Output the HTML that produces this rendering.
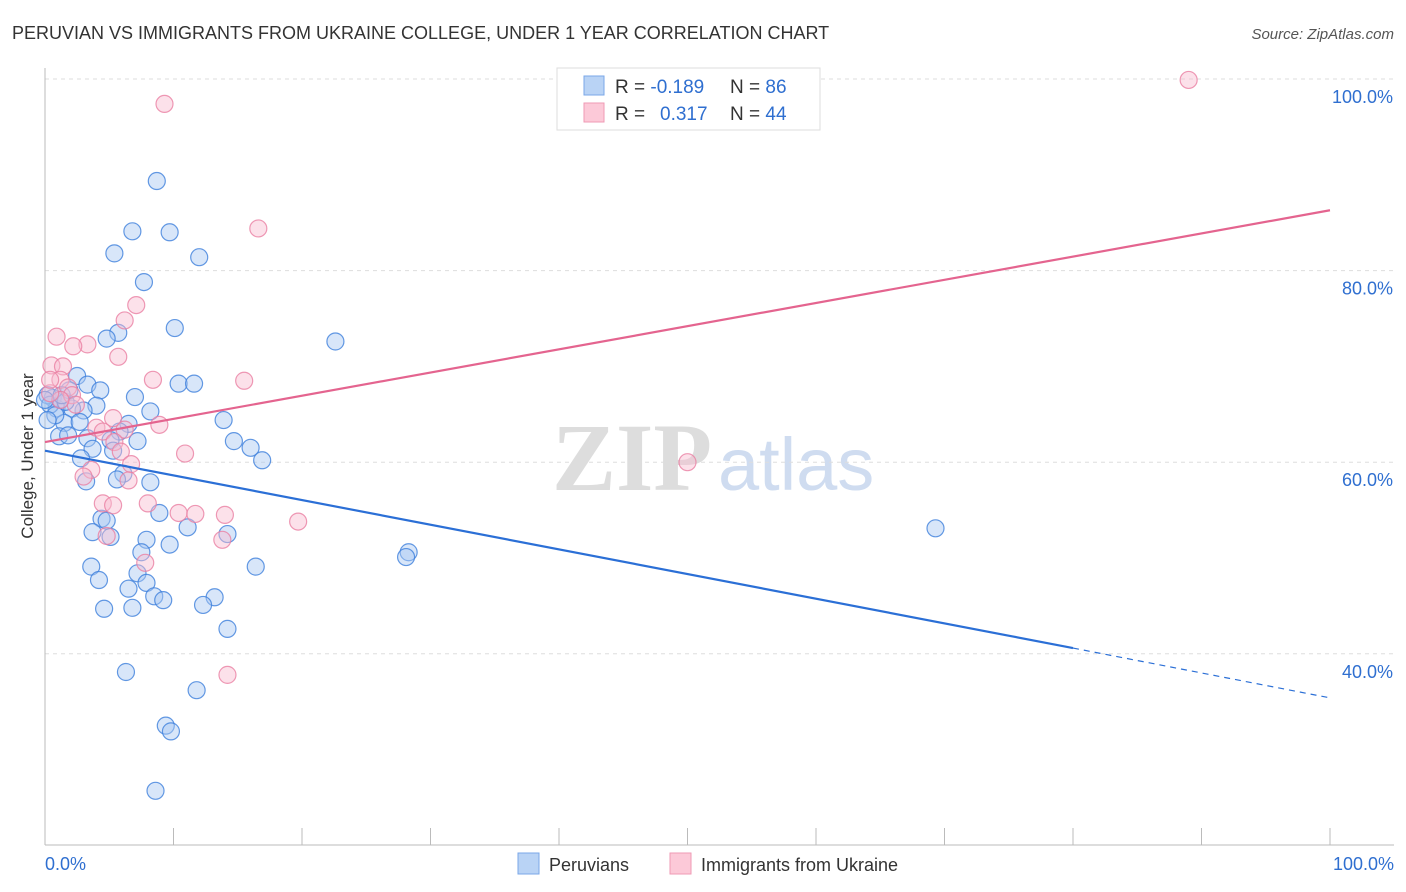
<!DOCTYPE html>
<html><head><meta charset="utf-8"><style>
body{margin:0;background:#fff;font-family:"Liberation Sans",sans-serif;}
</style></head><body>
<svg id="chart" width="1406" height="892" xmlns="http://www.w3.org/2000/svg" style="display:block">
<text x="12" y="39" font-size="18" fill="#333">PERUVIAN VS IMMIGRANTS FROM UKRAINE COLLEGE, UNDER 1 YEAR CORRELATION CHART</text>
<text x="1394" y="39" font-size="15" fill="#555" font-style="italic" text-anchor="end">Source: ZipAtlas.com</text>
<text x="552" y="490" font-size="96" fill="#ddd" font-family="Liberation Serif,serif" font-weight="bold">ZIP</text>
<text x="718" y="490" font-size="74" fill="#cfdcf0">atlas</text>
<g id="grid"></g><g id="axes"></g><g id="pts"></g><g id="lines"></g>
<text transform="translate(33,456) rotate(-90)" font-size="17" fill="#333" text-anchor="middle">College, Under 1 year</text>
<g>
<rect x="557" y="68" width="263" height="62" fill="#fff" stroke="#ddd"/>
<rect x="584" y="76" width="20" height="19" fill="#b9d3f5" stroke="#7aa7e8"/>
<rect x="584" y="103" width="20" height="19" fill="#fcc9d8" stroke="#ef9ab4"/>
<text x="615" y="93" font-size="19" fill="#333">R = <tspan fill="#2f6fd0">-0.189</tspan><tspan x="730">N = </tspan><tspan fill="#2f6fd0">86</tspan></text>
<text x="615" y="120" font-size="19" fill="#333">R = <tspan x="660" fill="#2f6fd0">0.317</tspan><tspan x="730">N = </tspan><tspan fill="#2f6fd0">44</tspan></text>
</g>
<g>
<rect x="518" y="853" width="21" height="21" fill="#b9d3f5" stroke="#7aa7e8"/>
<text x="549" y="871" font-size="18" fill="#333">Peruvians</text>
<rect x="670" y="853" width="21" height="21" fill="#fcc9d8" stroke="#ef9ab4"/>
<text x="701" y="871" font-size="18" fill="#333">Immigrants from Ukraine</text>
</g>
</svg>
<script>
const yTicks=[40,60,80,100];
const yTickLabels=["40.0%","60.0%","80.0%","100.0%"];
const xTickLabels=["0.0%","100.0%"];
const blueX=[8.7,6.8,9.7,5.4,12,7.7,10.1,5.7,4.8,22.6,2.5,3.3,4.3,10.4,11.6,7,0.6,4,8.2,3,0.9,2.1,1.5,2.7,13.9,6.5,5.8,3.3,1.1,1.8,14.7,5.1,7.2,3.7,16,5.3,2.8,16.9,6.1,5.6,3.2,8.2,8.9,4.4,4.8,11.1,3.7,5.1,14.2,7.9,9.7,7.5,28.3,28.1,3.6,16.4,7.2,4.2,7.9,6.5,8.5,13.2,9.2,12.3,4.6,6.8,14.2,6.3,11.8,9.4,9.8,8.6,69.3,0.2,0.4,1.2,0.8,1.6,0,1.9,0.2,1.3];
const blueY=[89.35,84.1,84.0,81.8,81.4,78.8,74.0,73.5,72.9,72.6,69.0,68.1,67.5,68.2,68.2,66.8,66.7,65.9,65.3,65.4,65.6,65.6,64.1,64.2,64.4,64.0,63.2,62.5,62.7,62.8,62.2,62.3,62.2,61.4,61.5,61.2,60.4,60.2,58.8,58.2,58.0,57.9,54.7,54.1,53.9,53.2,52.7,52.2,52.5,51.9,51.4,50.6,50.6,50.1,49.1,49.1,48.4,47.7,47.4,46.8,46.0,45.9,45.6,45.1,44.7,44.8,42.6,38.1,36.2,32.5,31.9,25.7,53.1,67.0,66.0,66.5,64.9,66.3,66.5,67.5,64.4,67.0];
const pinkX=[9.3,89,16.6,7.1,6.2,0.9,3.3,2.2,5.7,0.5,1.4,8.4,15.5,1.2,1.8,2.1,2.4,1.2,0.4,5.3,8.9,4,6.2,4.5,5.4,5.9,10.9,50,6.7,3.6,3,6.5,4.5,5.3,8,10.4,11.7,14,19.7,4.8,13.8,7.8,14.2,0.4];
const pinkY=[97.4,99.9,84.4,76.4,74.8,73.1,72.3,72.1,71.0,70.1,70.0,68.6,68.5,68.6,67.8,67.0,66.0,66.5,67.2,64.6,63.9,63.6,63.4,63.2,62.1,61.1,60.9,60.0,59.8,59.2,58.5,58.1,55.7,55.5,55.7,54.7,54.6,54.5,53.8,52.3,51.9,49.5,37.8,68.6];
const blueLine=[61.2,40.6,80,35.4];
const pinkLine=[62.1,86.3];
const X=v=>45+v*12.85, Y=v=>79+(100-v)*9.58;
const NS="http://www.w3.org/2000/svg";
function mk(p,t,a){const e=document.createElementNS(NS,t);for(const k in a)e.setAttribute(k,a[k]);p.appendChild(e);return e;}
const grid=document.getElementById('grid'),axes=document.getElementById('axes'),pts=document.getElementById('pts'),lines=document.getElementById('lines');
yTicks.forEach((t,i)=>{
 const g=mk(grid,'line',{x1:45,x2:1394,y1:Y(t),y2:Y(t),stroke:'#ddd','stroke-dasharray':'4,4'});
 
 
 const l=mk(grid,'text',{x:1393,y:Y(t)+24,'font-size':18,fill:'#2f6fd0','text-anchor':'end'});l.textContent=yTickLabels[i];
 
 
});
const ax=mk(axes,'line',{x1:45,x2:45,y1:68,y2:845,stroke:'#bbb'});


const bx=mk(axes,'line',{x1:45,x2:1394,y1:845,y2:845,stroke:'#bbb'});


for(let i=1;i<=10;i++){const t=mk(axes,'line',{x1:X(i*10),x2:X(i*10),y1:828,y2:845,stroke:'#bbb'});
 
 }
[[0,'start',45],[100,'end',1394]].forEach((d,i)=>{const t=mk(axes,'text',{x:d[2],y:870,'font-size':18,fill:'#2f6fd0','text-anchor':d[1]});t.textContent=xTickLabels[i];
 
 });
function dots(xs,ys,fill,stroke,name){xs.forEach((x,i)=>{const c=mk(pts,'circle',{cx:X(x),cy:Y(ys[i]),r:8.5,fill:fill,'fill-opacity':0.45,stroke:stroke,'stroke-width':1.2,'stroke-opacity':0.8});
 
 });}
dots(blueX,blueY,'#a9c8f2','#3d7fdc','peruvian-point');
dots(pinkX,pinkY,'#f9bdd0','#ea7fa3','ukraine-point');
let l1=mk(lines,'line',{x1:X(0),y1:Y(blueLine[0]),x2:X(blueLine[2]),y2:Y(blueLine[1]),stroke:'#2b6fd6','stroke-width':2.2});


let l2=mk(lines,'line',{x1:X(blueLine[2]),y1:Y(blueLine[1]),x2:X(100),y2:Y(blueLine[3]),stroke:'#2b6fd6','stroke-width':1.2,'stroke-dasharray':'6,5'});


let l3=mk(lines,'line',{x1:X(0),y1:Y(pinkLine[0]),x2:X(100),y2:Y(pinkLine[1]),stroke:'#e4648f','stroke-width':2.2});


</script>
</body></html>
